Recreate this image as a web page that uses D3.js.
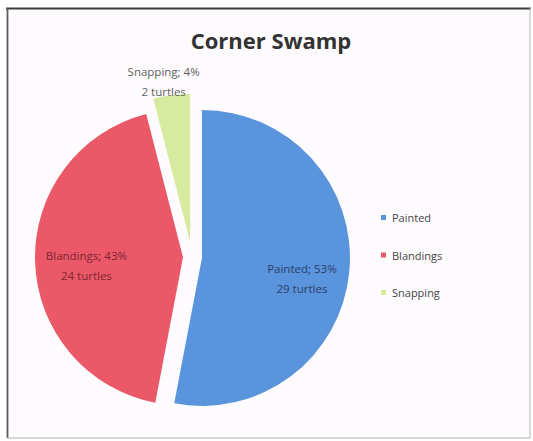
<!DOCTYPE html>
<html>
<head>
<meta charset="utf-8">
<script src="https://cdn.jsdelivr.net/npm/d3@7"></script>
<style>
  html, body { margin: 0; padding: 0; background: #ffffff; }
  svg { display: block; }
</style>
</head>
<body>
<svg id="chart" width="533" height="441"></svg>
<script>
// Turtle survey, Corner Swamp
const categories = ["Painted", "Blandings", "Snapping"];
const percents = [53, 43, 4];
const turtles = [29, 24, 2];
const title = "Corner Swamp";

// Styling per species
const fills = ["#5a94dc", "#eb5868", "#d7ea9f"];
const labelInk = ["#2b3f6b", "#7d2631", "#5e5e5e"];

const W = 533, H = 441;
const svg = d3.select("#chart");

// Frame of the chart area
svg.append("rect")
  .attr("x", 7.5).attr("y", 8.5).attr("width", 522).attr("height", 429)
  .attr("fill", "#fdfbfd").attr("stroke", "none");
svg.append("line").attr("x1", 6).attr("x2", 531).attr("y1", 8.5).attr("y2", 8.5)
  .attr("stroke", "#3c3c3c").attr("stroke-width", 2.2);
svg.append("line").attr("x1", 7.5).attr("x2", 7.5).attr("y1", 8).attr("y2", 438)
  .attr("stroke", "#5a5a5a").attr("stroke-width", 1.8);
svg.append("line").attr("x1", 530).attr("x2", 530).attr("y1", 8).attr("y2", 438)
  .attr("stroke", "#b5b5b5").attr("stroke-width", 1);
svg.append("line").attr("x1", 7).attr("x2", 530).attr("y1", 438).attr("y2", 438)
  .attr("stroke", "#b5b5b5").attr("stroke-width", 1);

// Title
svg.append("text")
  .attr("x", 271).attr("y", 49)
  .attr("text-anchor", "middle")
  .attr("font-family", "'Open Sans', sans-serif")
  .attr("font-weight", "bold")
  .attr("font-size", 22)
  .attr("fill", "#333333")
  .text(title);

// Pie layout
const cx = 192, cy = 257, radius = 148;
const explode = [10, 9, 15];          // pull-out distance for each slice
const labelFrac = [0.53, 0.48, 0.36];  // where along the slice each label sits
const labelDist = [112, 106, 177];     // label distance from pie centre

const rows = categories.map((c, i) => ({ name: c, pct: percents[i], n: turtles[i], i }));
const pie = d3.pie().sort(null).value(d => d.pct);
const arcs = pie(rows);
const arc = d3.arc().innerRadius(0).outerRadius(radius);

const g = svg.append("g").attr("transform", `translate(${cx},${cy})`);

g.selectAll("path.slice")
  .data(arcs)
  .join("path")
  .attr("class", "slice")
  .attr("d", arc)
  .attr("fill", d => fills[d.data.i])
  .attr("transform", d => {
    const a = (d.startAngle + d.endAngle) / 2;
    const e = explode[d.data.i];
    return `translate(${Math.sin(a) * e},${-Math.cos(a) * e})`;
  });

// Data labels
const labels = g.selectAll("g.lbl")
  .data(arcs)
  .join("g")
  .attr("class", "lbl")
  .attr("transform", d => {
    const a = d.startAngle + (d.endAngle - d.startAngle) * labelFrac[d.data.i];
    const r = labelDist[d.data.i];
    return `translate(${Math.sin(a) * r},${-Math.cos(a) * r})`;
  });

labels.append("text")
  .attr("y", -6)
  .attr("text-anchor", "middle")
  .attr("font-family", "'Open Sans', sans-serif")
  .attr("font-size", 11.5)
  .attr("fill", d => labelInk[d.data.i])
  .text(d => `${d.data.name}; ${d.data.pct}%`);

labels.append("text")
  .attr("y", 14)
  .attr("text-anchor", "middle")
  .attr("font-family", "'Open Sans', sans-serif")
  .attr("font-size", 11.5)
  .attr("fill", d => labelInk[d.data.i])
  .text(d => `${d.data.n} turtles`);

// Legend
const legendY = d3.scalePoint().domain(categories).range([218, 293]);
const legend = svg.append("g");
const items = legend.selectAll("g.item")
  .data(categories)
  .join("g")
  .attr("class", "item")
  .attr("transform", d => `translate(381,${legendY(d)})`);

items.append("rect")
  .attr("x", 0).attr("y", -3).attr("width", 5).attr("height", 5)
  .attr("fill", (d, i) => fills[i]);

items.append("text")
  .attr("x", 11).attr("y", 4)
  .attr("font-family", "'Open Sans', sans-serif")
  .attr("font-size", 11)
  .attr("fill", "#454545")
  .text(d => d);
</script>
</body>
</html>
